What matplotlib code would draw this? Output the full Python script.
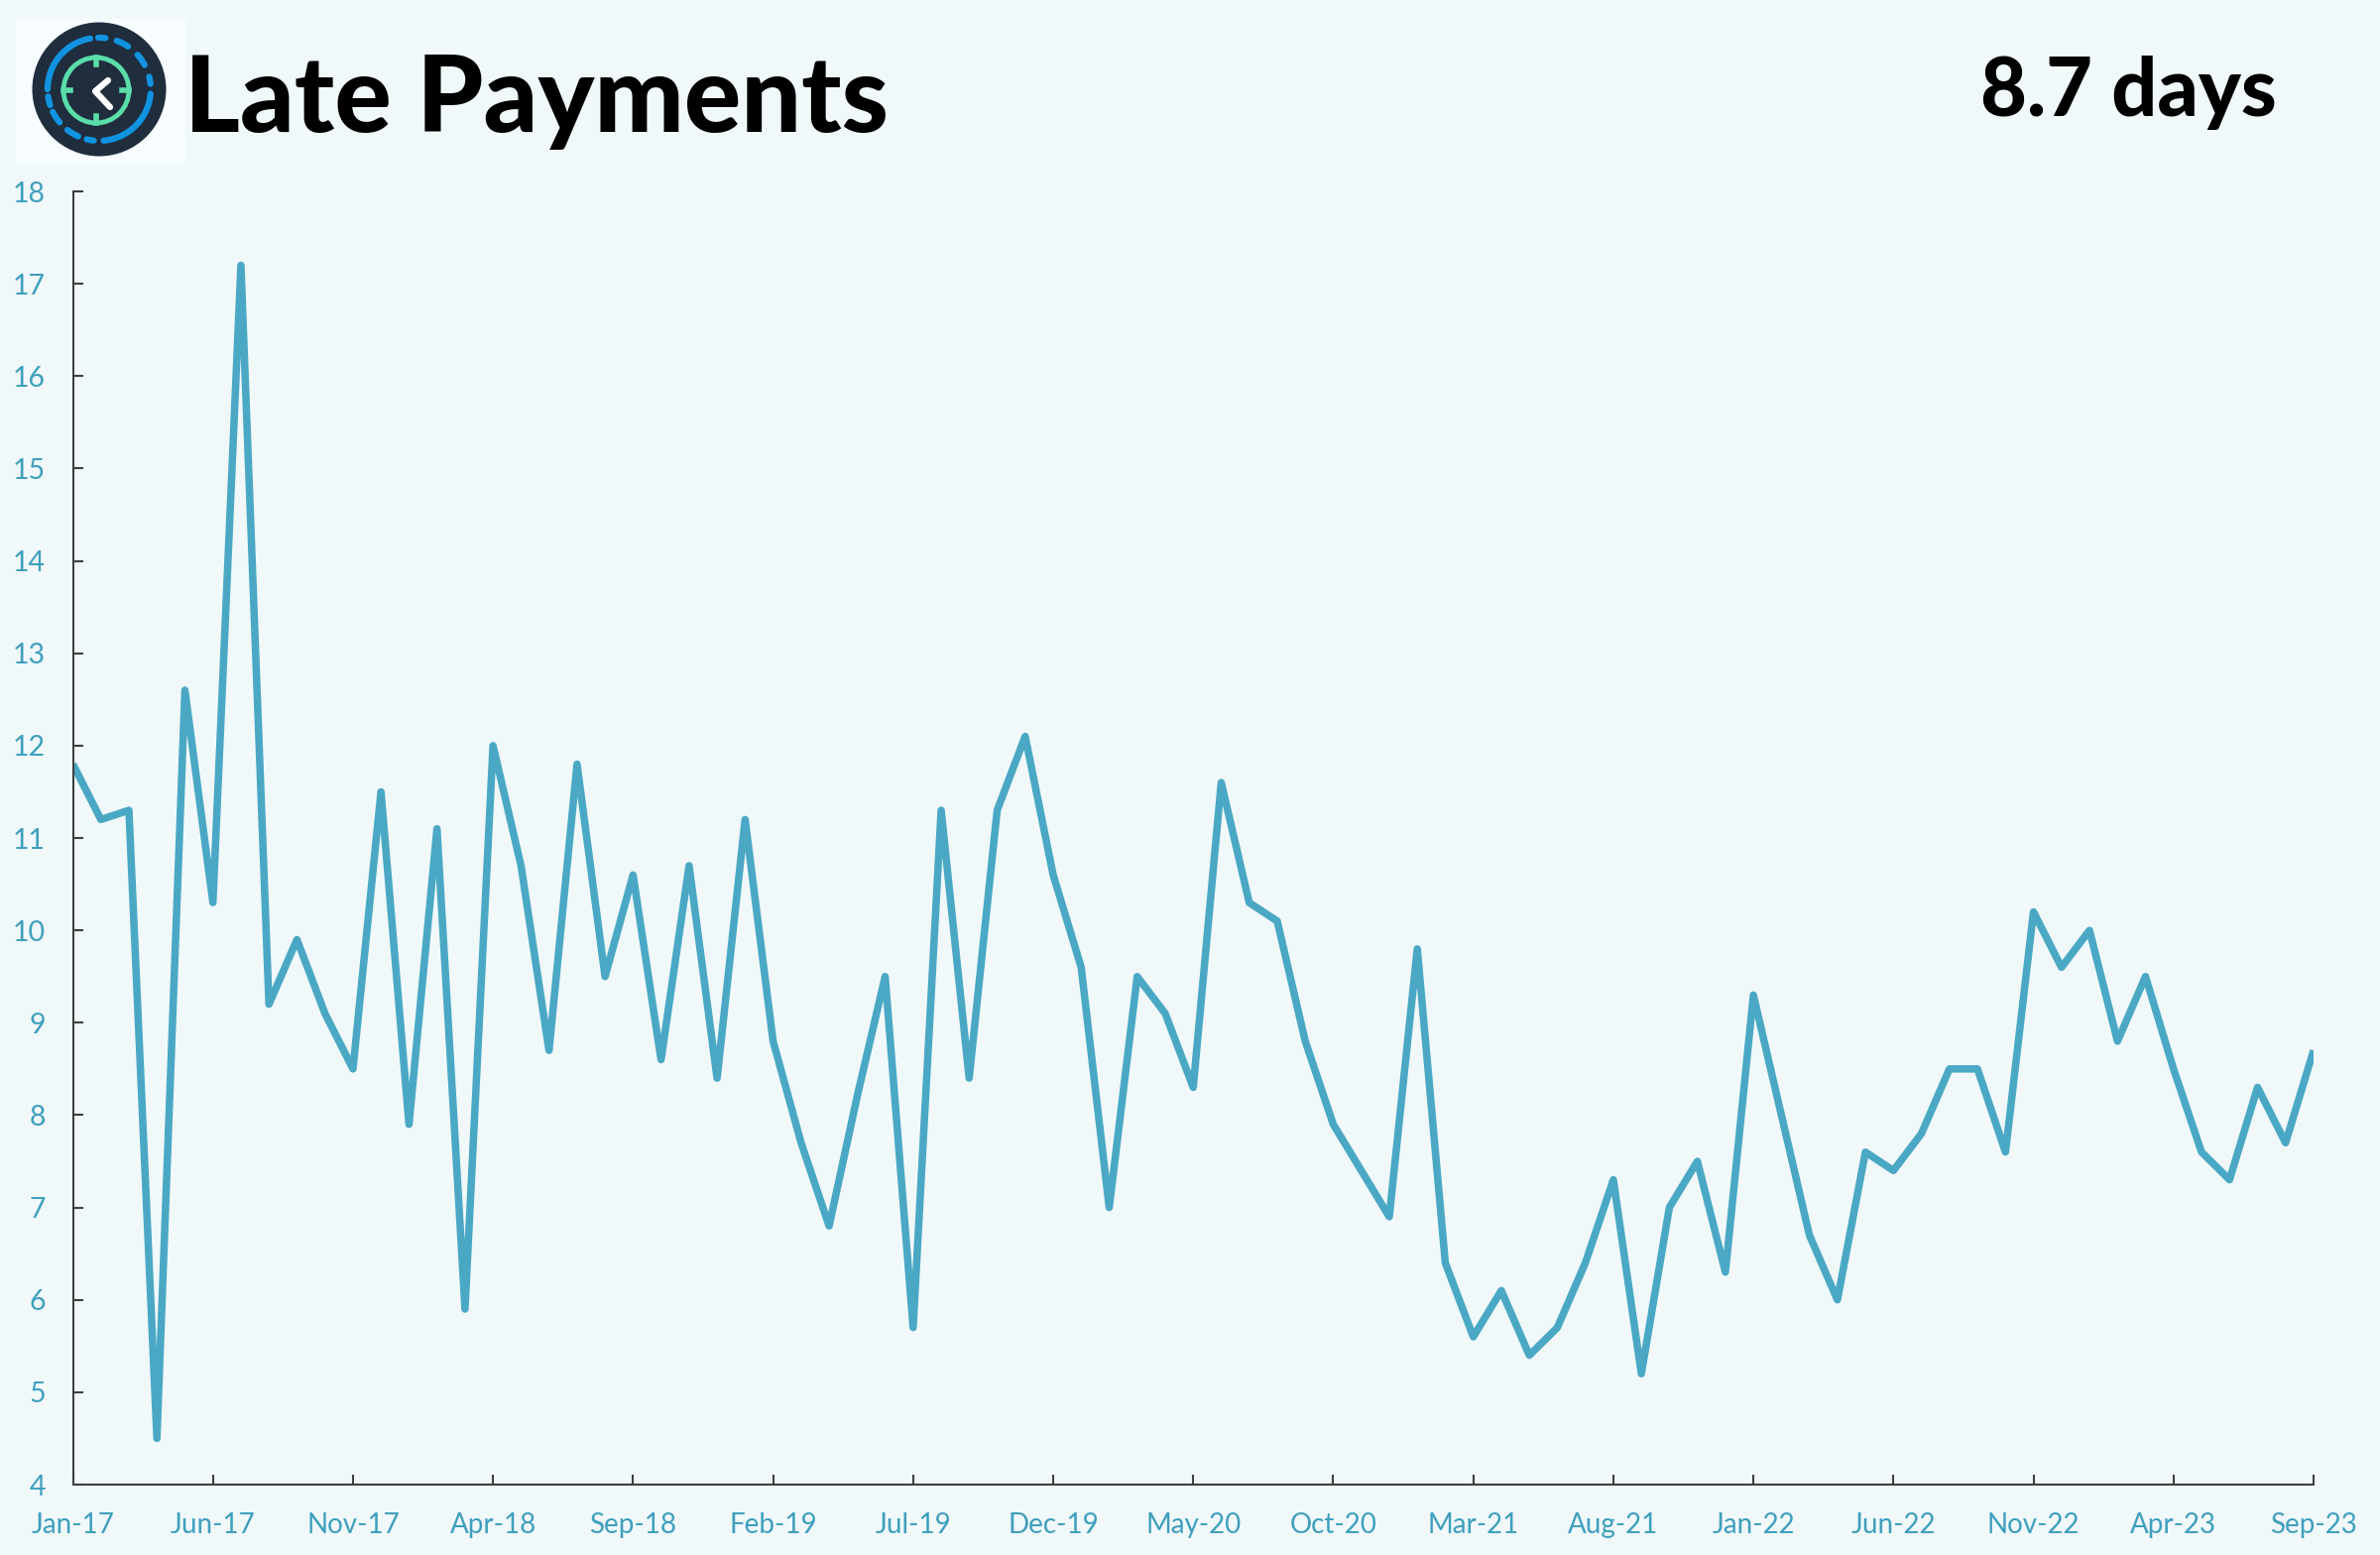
import numpy as np
import matplotlib
matplotlib.use('Agg')
matplotlib.rcParams['font.family'] = ['Lato', 'DejaVu Sans']
import matplotlib.pyplot as plt
from matplotlib.patches import Arc, Circle, Rectangle

# 月度数据 Jan-17 .. Sep-23
late_days = [11.8, 11.2, 11.3, 4.5, 12.6, 10.3, 17.2, 9.2, 9.9, 9.1,
             8.5, 11.5, 7.9, 11.1, 5.9, 12.0, 10.7, 8.7, 11.8, 9.5,
             10.6, 8.6, 10.7, 8.4, 11.2, 8.8, 7.7, 6.8, 8.2, 9.5,
             5.7, 11.3, 8.4, 11.3, 12.1, 10.6, 9.6, 7.0, 9.5, 9.1,
             8.3, 11.6, 10.3, 10.1, 8.8, 7.9, 7.4, 6.9, 9.8, 6.4,
             5.6, 6.1, 5.4, 5.7, 6.4, 7.3, 5.2, 7.0, 7.5, 6.3,
             9.3, 8.0, 6.7, 6.0, 7.6, 7.4, 7.8, 8.5, 8.5, 7.6,
             10.2, 9.6, 10.0, 8.8, 9.5, 8.5, 7.6, 7.3, 8.3, 7.7,
             8.7]
x_labels = ['Jan-17', 'Jun-17', 'Nov-17', 'Apr-18', 'Sep-18', 'Feb-19', 'Jul-19',
            'Dec-19', 'May-20', 'Oct-20', 'Mar-21', 'Aug-21', 'Jan-22', 'Jun-22',
            'Nov-22', 'Apr-23', 'Sep-23']
y_ticks = list(range(4, 19))
title = 'Late Payments'
latest = '8.7 days'

W, H = 2400, 1568
BG = '#F0F8FA'
LINE = '#4AA8C4'
TICK = '#3F9FBD'
AXIS = '#404040'

fig = plt.figure(figsize=(W / 100, H / 100), dpi=100, facecolor=BG)

# 主图
ax = fig.add_axes([73.5 / W, 1 - 1497 / H, (2333 - 73.5) / W, (1497 - 193) / H])
ax.set_facecolor(BG)
xs = np.arange(len(late_days))
ax.plot(xs, late_days, color=LINE, linewidth=5.4, solid_joinstyle='round',
        solid_capstyle='butt', clip_on=True)
ax.set_xlim(0, len(late_days) - 1)
ax.set_ylim(4, 18)
ax.set_xticks(xs[::5])
ax.set_xticklabels(x_labels)
ax.set_yticks(y_ticks)
for side in ['top', 'right']:
    ax.spines[side].set_visible(False)
for side in ['left', 'bottom']:
    ax.spines[side].set_color(AXIS)
    ax.spines[side].set_linewidth(1.5)
ax.tick_params(axis='x', direction='in', length=7, width=1.5, color=AXIS,
               labelcolor=TICK, labelsize=20, pad=20)
ax.tick_params(axis='y', direction='in', length=7, width=1.5, color=AXIS,
               labelcolor=TICK, labelsize=20.5, pad=20)

# 标题
fig.text(186 / W, 1 - 133 / H, title, fontsize=77.2, fontweight=900,
         color='black', ha='left', va='baseline')
fig.text(2296 / W, 1 - 117 / H, latest, fontsize=58.2, fontweight=900,
         color='black', ha='right', va='baseline')

# 图标 (像素坐标)
logo = fig.add_axes([0, 0, 1, 1], zorder=5)
logo.set_xlim(0, W)
logo.set_ylim(H, 0)
logo.axis('off')
logo.add_patch(Rectangle((16, 19), 171, 146, facecolor='#F7FDFE', edgecolor='none'))
logo.add_patch(Circle((100, 90), 67.5, facecolor='#1F2D3D', edgecolor='none'))
BLUE = '#1193E0'
# y 轴向下, 角度顺时针
for a, b in [(-180, -100), (-91, -83), (-70, -56), (-42, -28), (-14, -6),
             (5, 85), (96, 104), (114, 128), (140, 154), (162, 172)]:
    logo.add_patch(Arc((100, 90), 104, 104, theta1=a, theta2=b, color=BLUE,
                       lw=4.5, capstyle='round'))
GREEN = '#5BDDAA'
logo.add_patch(Circle((97, 91), 33, facecolor='none', edgecolor=GREEN, lw=3.5))
for dx, dy in [(0, -33), (0, 33), (-33, 0), (33, 0)]:
    logo.plot([97 + dx * 0.8, 97 + dx * 1.0], [91 + dy * 0.8, 91 + dy * 1.0],
              color=GREEN, lw=4)
logo.plot([109, 96, 111], [81, 92, 108], color='white', lw=4.5,
          solid_joinstyle='round', solid_capstyle='round')

fig.savefig('out.png', dpi=100, facecolor=BG)
plt.close(fig)
